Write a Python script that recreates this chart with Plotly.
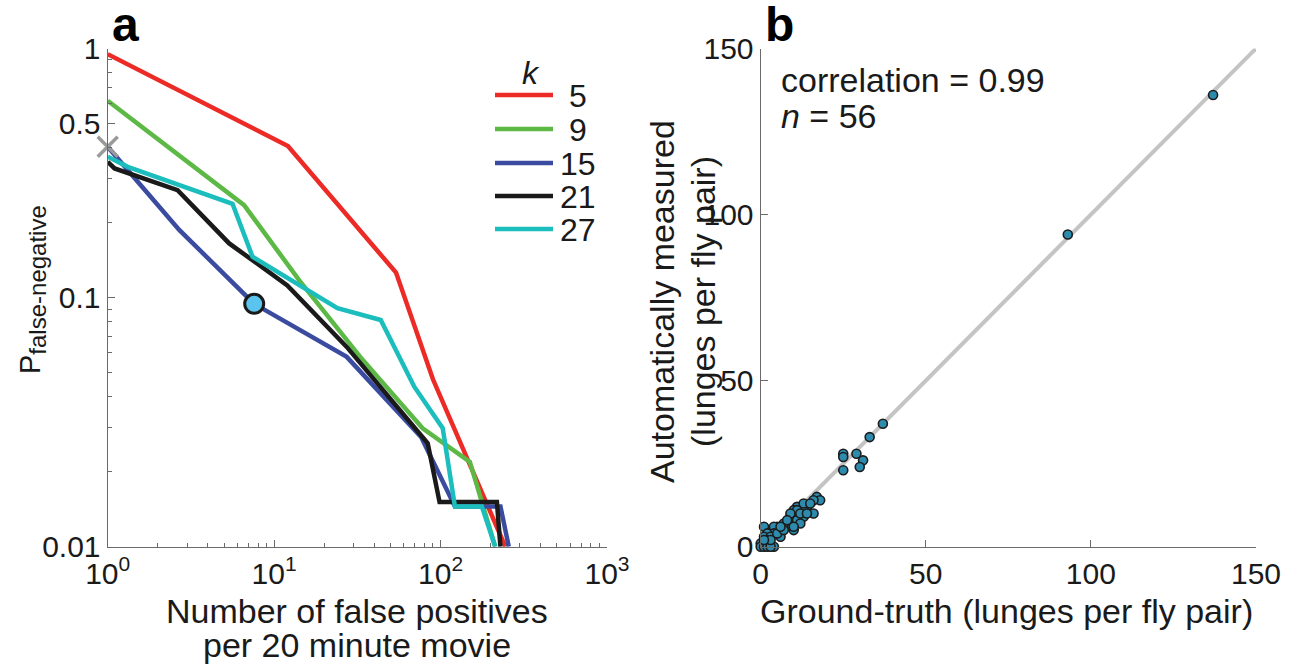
import plotly.graph_objects as go

# ---------------- Panel a data ----------------
k_labels = ["5", "9", "15", "21", "27"]
k_colors = ["#ec2a26", "#5cb946", "#3b4ca0", "#1a1a1a", "#1bbdbd"]

fp_k5 = [1.0, 12.1, 54.0, 90.0, 245.0]
fn_k5 = [0.949, 0.406, 0.126, 0.047, 0.01]

fp_k9 = [1.0, 6.6, 14.2, 32.9, 78.0, 150.0, 213.0]
fn_k9 = [0.617, 0.235, 0.117, 0.0578, 0.0299, 0.0219, 0.01]

fp_k15 = [1.0, 2.69, 7.59, 27.3, 76.3, 122.0, 229.0, 257.0]
fn_k15 = [0.403, 0.187, 0.0944, 0.0578, 0.0276, 0.0145, 0.0145, 0.01]

fp_k21 = [1.0, 1.1, 2.63, 5.37, 12.0, 27.3, 83.7, 98.6, 218.0, 229.0]
fn_k21 = [0.351, 0.33, 0.27, 0.165, 0.112, 0.0634, 0.026, 0.0151, 0.0151, 0.01]

fp_k27 = [1.0, 1.32, 5.62, 7.41, 24.0, 43.7, 69.5, 103.0, 122.0, 177.0, 213.0]
fn_k27 = [0.368, 0.335, 0.238, 0.146, 0.0906, 0.0813, 0.0439, 0.0299, 0.0145, 0.0145, 0.01]

series_fp = [fp_k5, fp_k9, fp_k15, fp_k21, fp_k27]
series_fn = [fn_k5, fn_k9, fn_k15, fn_k21, fn_k27]

cross_pt = (1.0, 0.403)      # gray X marker
circle_pt = (7.59, 0.0944)   # chosen operating point

xa_tickvals = [1, 10, 100, 1000]
xa_ticktext = ["10<sup>0</sup>", "10<sup>1</sup>", "10<sup>2</sup>", "10<sup>3</sup>"]
ya_tickvals = [0.01, 0.1, 0.5, 1]
ya_ticktext = ["0.01", "0.1", "0.5", "1"]

# ---------------- Panel b data ----------------
ground_truth = [137, 93, 37, 33, 25, 25, 29, 31, 30, 25,
                17, 18, 16, 14, 11, 10, 13, 16, 13, 9,
                11, 12, 8, 10, 7, 5, 6, 4, 4, 6,
                1, 2, 1, 3, 2, 0, 1, 2, 4, 0,
                1, 2, 3, 11, 12, 9, 10, 13, 15, 8,
                5, 3, 7, 1, 6, 14]
auto_measured = [136, 94, 37, 33, 28, 27, 28, 26, 24, 23,
                 15, 14, 14, 12, 12, 11, 11, 10, 9, 9,
                 8, 7, 7, 5, 7, 6, 5, 6, 4, 3,
                 6, 4, 3, 3, 2, 1, 1, 1, 0, 0,
                 0, 0, 0, 11, 10, 10, 6, 13, 13, 8,
                 4, 2, 5, 2, 6, 10]
fit_x = [0, 150]
fit_y = [0, 150]
b_ticks = [0, 50, 100, 150]

FONT = "Liberation Sans, Arial, Helvetica, sans-serif"
TXT = "#1a1a1a"
AX = "#6a6a6a"
W, H = 1301, 664
TICK_SIZE = 30
TITLE_SIZE = 34


def fx(px):
    return px / W


def fy(py):
    return 1 - py / H


fig = go.Figure()

for fp, fn, col, lab in zip(series_fp, series_fn, k_colors, k_labels):
    fig.add_trace(go.Scatter(x=fp, y=fn, mode="lines", line=dict(color=col, width=4.5),
                             name=lab, showlegend=False, cliponaxis=False,
                             xaxis="x", yaxis="y"))

fig.add_trace(go.Scatter(x=[cross_pt[0]], y=[cross_pt[1]], mode="markers",
                         marker=dict(symbol="x-thin", size=20, line=dict(color="#9a9a9a", width=3.5)),
                         showlegend=False, cliponaxis=False, xaxis="x", yaxis="y"))
fig.add_trace(go.Scatter(x=[circle_pt[0]], y=[circle_pt[1]], mode="markers",
                         marker=dict(symbol="circle", size=19, color="#5ac4ee",
                                     line=dict(color="#1a1a1a", width=3)),
                         showlegend=False, cliponaxis=False, xaxis="x", yaxis="y"))

# Panel b
fig.add_trace(go.Scatter(x=fit_x, y=fit_y, mode="lines", line=dict(color="#c4c4c4", width=4),
                         showlegend=False, xaxis="x2", yaxis="y2", cliponaxis=False))
fig.add_trace(go.Scatter(x=ground_truth, y=auto_measured, mode="markers",
                         marker=dict(symbol="circle", size=9, color="#2d8cae",
                                     line=dict(color="#1c1c1c", width=1.6)),
                         showlegend=False, cliponaxis=False, xaxis="x2", yaxis="y2"))

ydom = [fy(546.7), fy(48.5)]

axis_common = dict(showline=True, linecolor=AX, linewidth=1.3, ticks="inside",
                   tickcolor=AX, tickwidth=1.2, showgrid=False, zeroline=False,
                   automargin=False, mirror=False,
                   tickfont=dict(family=FONT, size=TICK_SIZE, color=TXT))

minor_x = [m * 10 ** d for d in range(3) for m in range(2, 10)]
minor_y = [m * 10 ** d for d in (-2, -1) for m in range(2, 10) if not (d == -1 and m == 5)]

fig.update_layout(
    width=W, height=H, autosize=False,
    margin=dict(l=0, r=0, t=0, b=0, pad=0, autoexpand=False),
    paper_bgcolor="white", plot_bgcolor="white",
    font=dict(family=FONT, color=TXT),
    xaxis=dict(type="log", range=[0, 3], domain=[fx(107.7), fx(607.0)], anchor="y",
               tickmode="array", tickvals=xa_tickvals, ticktext=xa_ticktext, ticklen=7,
               minor=dict(tickmode="array", tickvals=minor_x, ticks="inside", ticklen=4,
                          tickcolor=AX, tickwidth=1.2),
               **axis_common),
    yaxis=dict(type="log", range=[-2, 0], domain=ydom, anchor="x",
               tickmode="array", tickvals=ya_tickvals, ticktext=ya_ticktext, ticklen=7,
               minor=dict(tickmode="array", tickvals=minor_y, ticks="inside", ticklen=4,
                          tickcolor=AX, tickwidth=1.2),
               **axis_common),
    xaxis2=dict(range=[0, 150], domain=[fx(760.7), fx(1256.0)], anchor="y2",
                tickmode="array", tickvals=b_ticks, ticklen=7, **axis_common),
    yaxis2=dict(range=[0, 150], domain=ydom, anchor="x2",
                tickmode="array", tickvals=b_ticks, ticklen=7, **axis_common),
)

ann = []


def add_text(px, py, text, size, xanchor="center", angle=0, color=TXT):
    ann.append(dict(x=fx(px), y=fy(py), xref="paper", yref="paper", text=text,
                    showarrow=False, xanchor=xanchor, yanchor="middle", textangle=angle,
                    font=dict(size=size, family=FONT, color=color)))


# panel letters
add_text(110, 24, "<b>a</b>", 48, xanchor="left", color="black")
add_text(763, 24, "<b>b</b>", 48, xanchor="left", color="black")
# panel a axis titles
add_text(357, 611, "Number of false positives", TITLE_SIZE)
add_text(357, 645, "per 20 minute movie", TITLE_SIZE)
add_text(32, 290, "P<sub><span style='font-size:24px'>false-negative</span></sub>", 29, angle=-90)
# panel b axis titles
add_text(1006, 611, "Ground-truth (lunges per fly pair)", TITLE_SIZE)
add_text(662, 302, "Automatically measured", TITLE_SIZE, angle=-90)
add_text(703, 302, "(lunges per fly pair)", TITLE_SIZE, angle=-90)
# correlation text
add_text(779, 80, "correlation = 0.99", TITLE_SIZE, xanchor="left")
add_text(779, 116, "<i>n</i> = 56", TITLE_SIZE, xanchor="left")

# manual legend
add_text(531, 73, "<i>k</i>", 32)
shapes = []
leg_y = [95, 129, 163, 196, 229]
for lab, col, yy in zip(k_labels, k_colors, leg_y):
    shapes.append(dict(type="line", xref="paper", yref="paper", x0=fx(495), x1=fx(553),
                       y0=fy(yy), y1=fy(yy), line=dict(color=col, width=4.5)))
    add_text(578, yy + 1, lab, 32)

fig.update_layout(annotations=ann, shapes=shapes)

fig.write_html("out.html", config={"displayModeBar": False},
               post_script="document.body.style.margin='0';document.body.style.overflow='hidden';")
